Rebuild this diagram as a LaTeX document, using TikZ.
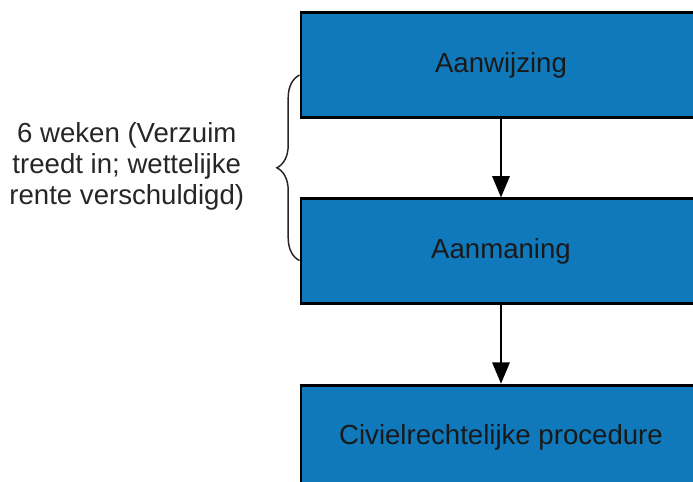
\documentclass[tikz,border=0pt]{standalone}
\usepackage{fontspec}
\setmainfont{Liberation Sans}
\usetikzlibrary{arrows.meta, positioning, decorations.pathreplacing}
\definecolor{stapblauw}{RGB}{16,121,188}
\definecolor{tekstgrijs}{RGB}{38,38,38}

\begin{document}
\begin{tikzpicture}[x=0.75pt, y=-0.75pt, font=\fontsize{20.7}{23.25}\selectfont,
	stap/.style={draw=black, line width=2.2pt, fill=stapblauw, text=black!90,
		minimum width=300pt, minimum height=78.5pt, inner sep=0pt},
	pijl/.style={-{Triangle[length=16pt, width=13pt]}, line width=1.5pt},
	accolade/.style={decorate, decoration={brace, amplitude=17pt}, line width=1.1pt, draw=tekstgrijs},
	termijn/.style={align=center, text=tekstgrijs, inner sep=0pt}]
	\def\W{693}
	\def\H{482}

	\useasboundingbox (0,0) rectangle (\W,\H);
	\clip (0,0) rectangle (\W,\H);

	% de drie stappen
	\node[stap] (aanwijzing) at (501,65) {Aanwijzing};
	\node[stap, below=59pt of aanwijzing] (aanmaning) {Aanmaning};
	\node[stap, below=59pt of aanmaning] (procedure) {Civielrechtelijke procedure};

	\draw[pijl] (aanwijzing) -- (aanmaning);
	\draw[pijl] (aanmaning) -- (procedure);

	% termijn tussen aanwijzing en aanmaning
	\draw[accolade] ([yshift=-7pt]aanmaning.west) -- node[termijn, left=41pt, yshift=1pt] (termijn)
		{6 weken (Verzuim\\treedt in; wettelijke\\rente verschuldigd)} ([yshift=-7.5pt]aanwijzing.west);
\end{tikzpicture}
\end{document}
